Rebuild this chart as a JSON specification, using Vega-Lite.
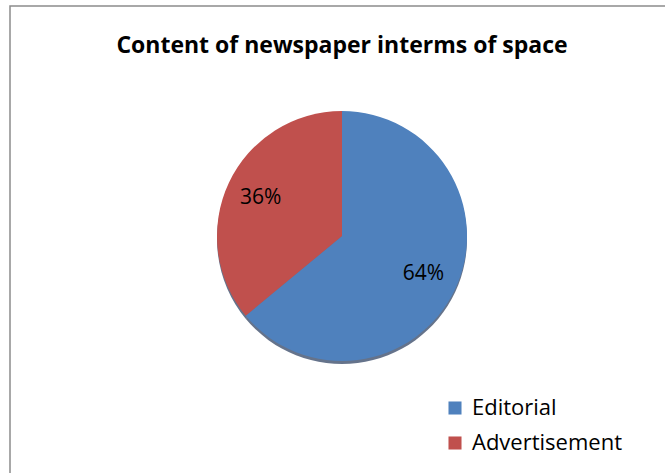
{
  "$schema": "https://vega.github.io/schema/vega-lite/v6.json",
  "width": 664,
  "height": 480,
  "autosize": {"type": "none"},
  "padding": {"left": 10, "top": 6, "right": -9, "bottom": -13},
  "background": "white",
  "view": {"stroke": "#8c8c8c", "strokeWidth": 1.5, "fill": "white"},
  "title": {
    "text": "Content of newspaper interms of space",
    "font": "Open Sans",
    "fontSize": 23,
    "fontWeight": "bold",
    "color": "black",
    "anchor": "middle",
    "offset": -52
  },
  "data": {
    "values": [
      {"category": "Editorial", "percent": 64, "label": "64%"},
      {"category": "Advertisement", "percent": 36, "label": "36%"}
    ]
  },
  "layer": [
    {
      "mark": {"type": "arc", "radius": 125, "fill": "#24385a", "opacity": 0.7, "x": {"expr": "width/2"}, "y": {"expr": "height/2-7"}},
      "encoding": {
        "theta": {"field": "percent", "type": "quantitative", "stack": true},
        "order": {"field": "percent", "sort": "descending"}
      }
    },
    {
      "mark": {"type": "arc", "radius": 125, "x": {"expr": "width/2"}, "y": {"expr": "height/2-10"}},
      "encoding": {
        "theta": {"field": "percent", "type": "quantitative", "stack": true},
        "order": {"field": "percent", "sort": "descending"},
        "color": {
          "field": "category",
          "type": "nominal",
          "sort": ["Editorial", "Advertisement"],
          "scale": {"domain": ["Editorial", "Advertisement"], "range": ["#4F81BD", "#C0504D"]},
          "legend": {
            "orient": "none",
            "legendX": 434,
            "legendY": 391,
            "title": null,
            "symbolType": "square",
            "symbolSize": 170,
            "symbolStrokeWidth": 0,
            "labelFontSize": 22,
            "labelFont": "Open Sans",
            "labelColor": "black",
            "labelOffset": 6,
            "rowPadding": 13
          }
        }
      }
    },
    {
      "mark": {"type": "text", "radius": 90, "font": "Open Sans", "fontSize": 21, "color": "black", "x": {"expr": "width/2"}, "y": {"expr": "height/2-10"}},
      "encoding": {
        "theta": {"field": "percent", "type": "quantitative", "stack": true},
        "order": {"field": "percent", "sort": "descending"},
        "text": {"field": "label", "type": "nominal"}
      }
    }
  ]
}
